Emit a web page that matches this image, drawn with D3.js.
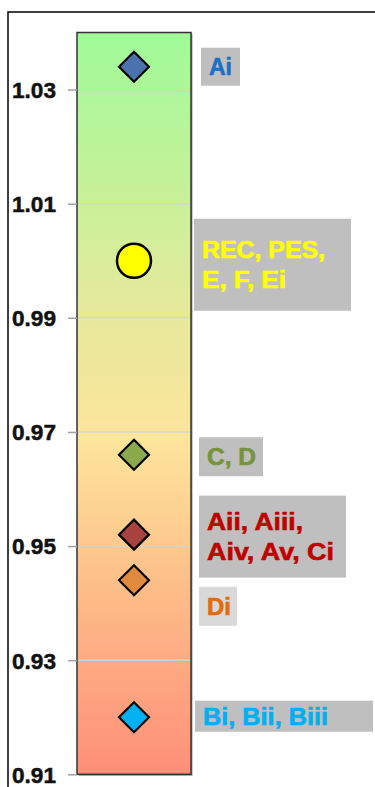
<!DOCTYPE html>
<html><head><meta charset="utf-8">
<script src="https://cdn.jsdelivr.net/npm/d3@7"></script>
<style>html,body{margin:0;padding:0;background:#fff;overflow:hidden}svg{display:block}</style>
</head><body>
<script>
// ---- data ----
const groups = ["Ai", "REC, PES, E, F, Ei", "C, D", "Aii, Aiii, Aiv, Av, Ci", "Di", "Bi, Bii, Biii"];
const values = [1.034, 1.000, 0.966, 0.952, 0.944, 0.920];
const labelLines = [["Ai"], ["REC, PES,", "E, F, Ei"], ["C, D"], ["Aii, Aiii,", "Aiv, Av, Ci"], ["Di"], ["Bi, Bii, Biii"]];
const tickValues = [0.91, 0.93, 0.95, 0.97, 0.99, 1.01, 1.03];
const yDomain = [0.91, 1.04];

// ---- styles ----
const markerShape = ["diamond", "circle", "diamond", "diamond", "diamond", "diamond"];
const markerFill = ["#4a72ad", "#ffff00", "#8aa84c", "#a8423f", "#e08a3e", "#00b0f0"];
const textFill = ["#1a6fc6", "#ffff00", "#77933c", "#c00000", "#e36c09", "#00b0f0"];
const boxFill = ["#bfbfbf", "#bfbfbf", "#bfbfbf", "#bfbfbf", "#d9d9d9", "#bfbfbf"];
const boxX = [201, 194, 199, 199, 199, 195];
const boxW = [39, 157, 64, 147, 38, 178];
const boxH = [38, 92, 39, 82, 39, 31];
const boxDy = [0, 4, 2, 2, 26, -1];
const lineWidths = [[23], [123, 84], [49], [96, 127], [24], [125]];

const W = 375, H = 787;
const FONT = "'Liberation Sans', Arial, sans-serif";
const svg = d3.select("body").append("svg").attr("width", W).attr("height", H);

// outer frame
svg.append("rect").attr("x", 8).attr("y", 12).attr("width", 400).attr("height", 800)
  .attr("fill", "#fff").attr("stroke", "#000").attr("stroke-width", 1.5);

const plot = {x0: 77, x1: 191};
const y = d3.scaleLinear().domain(yDomain).range([774.3, 32.5]);
const xc = d3.scalePoint().domain(["only"]).range([plot.x0, plot.x1]).padding(0.5);

const defs = svg.append("defs");
const grad = defs.append("linearGradient").attr("id", "bg").attr("x1", 0).attr("y1", 0).attr("x2", 0).attr("y2", 1);
[[0, "#9ffb98"], [0.38, "#e6e99b"], [0.55, "#fde59c"], [0.75, "#fdbd88"], [1, "#fe8f79"]]
  .forEach(([o, c]) => grad.append("stop").attr("offset", o).attr("stop-color", c));

// plot background
svg.append("rect").attr("x", plot.x0 + 1.5).attr("y", y(yDomain[1]) + 1.5)
  .attr("width", plot.x1 - plot.x0).attr("height", y(yDomain[0]) - y(yDomain[1]))
  .attr("fill", "#9a9a9a");
svg.append("rect").attr("x", plot.x0).attr("y", y(yDomain[1]))
  .attr("width", plot.x1 - plot.x0).attr("height", y(yDomain[0]) - y(yDomain[1]))
  .attr("fill", "url(#bg)");

// gridlines
svg.append("g").selectAll("line").data(tickValues.filter(t => t > yDomain[0])).join("line")
  .attr("x1", plot.x0).attr("x2", plot.x1)
  .attr("y1", d => y(d)).attr("y2", d => y(d))
  .attr("stroke", "#d4d4d4").attr("stroke-width", 1.5).attr("stroke-opacity", 0.9);

// border
svg.append("rect").attr("x", plot.x0).attr("y", y(yDomain[1]))
  .attr("width", plot.x1 - plot.x0).attr("height", y(yDomain[0]) - y(yDomain[1]))
  .attr("fill", "none").attr("stroke", "#333").attr("stroke-width", 1.5);

// axis
const axis = d3.axisLeft(y).tickValues(tickValues).tickFormat(d3.format(".2f")).tickSize(9).tickPadding(12);
const ag = svg.append("g").attr("transform", `translate(${plot.x0},0)`).call(axis);
ag.select(".domain").remove();
ag.selectAll(".tick line").attr("stroke", "#a0a0a0").attr("stroke-width", 1.5);
ag.selectAll(".tick text").attr("fill", "#111").attr("stroke", "#111").attr("stroke-width", 0.5)
  .style("font-family", FONT)
  .style("font-weight", "bold").style("font-size", "22px")
  .attr("textLength", 44).attr("lengthAdjust", "spacingAndGlyphs")
  .attr("dy", "0.36em");

// label boxes
const lg = svg.append("g");
groups.forEach((g, i) => {
  const cy = y(values[i]) + boxDy[i];
  lg.append("rect").attr("x", boxX[i]).attr("y", cy - boxH[i] / 2)
    .attr("width", boxW[i]).attr("height", boxH[i]).attr("fill", boxFill[i]);
  const lines = labelLines[i];
  const lh = 30;
  lines.forEach((t, j) => {
    const base = cy + 8.5 + (j - (lines.length - 1) / 2) * lh;
    lg.append("text").attr("x", boxX[i] + 8).attr("y", base)
      .attr("fill", textFill[i]).attr("stroke", textFill[i]).attr("stroke-width", 0.6)
      .style("font-family", FONT)
      .style("font-weight", "bold").style("font-size", "23px")
      .attr("textLength", lineWidths[i][j]).attr("lengthAdjust", "spacingAndGlyphs")
      .text(t);
  });
});

// markers
const mg = svg.append("g");
groups.forEach((g, i) => {
  const cx = xc("only"), cy = y(values[i]);
  if (markerShape[i] === "circle") {
    mg.append("circle").attr("cx", cx).attr("cy", cy).attr("r", 17)
      .attr("fill", markerFill[i]).attr("stroke", "#000").attr("stroke-width", 2.5);
  } else {
    const s = 15;
    mg.append("path").attr("d", `M${cx},${cy - s}L${cx + s},${cy}L${cx},${cy + s}L${cx - s},${cy}Z`)
      .attr("fill", markerFill[i]).attr("stroke", "#000").attr("stroke-width", 2.2);
  }
});
</script>
</body></html>
